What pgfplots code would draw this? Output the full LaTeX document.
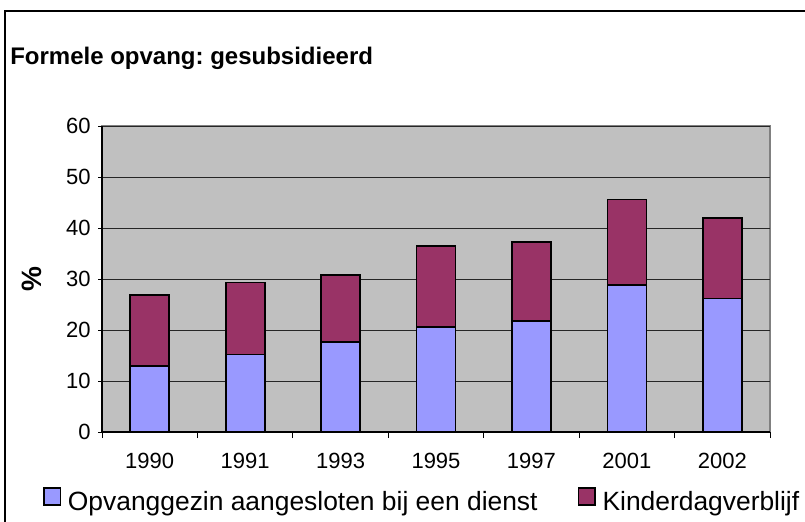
\documentclass[border=0pt]{standalone}
\usepackage{fontspec}
\setmainfont{Liberation Sans}
\usepackage{pgfplots}
\pgfplotsset{compat=1.18}
\definecolor{blueb}{HTML}{9999FF}
\definecolor{maroonb}{HTML}{993366}
\definecolor{plotbg}{HTML}{C0C0C0}
\frenchspacing
\begin{document}
\begin{tikzpicture}[x=0.75pt,y=0.75pt]
\useasboundingbox (0,0) rectangle (805,521);
\fill[white] (0,0) rectangle (805,521);
\begin{scope}
\clip (0,0) rectangle (805,521);
\draw[black, line width=0.9pt] (5,-10) -- (5,510) -- (820,510);
\end{scope}
\node[anchor=base west, font=\bfseries\fontsize{18}{20}\selectfont, inner sep=0pt] at (10,456) {Formele opvang: gesubsidieerd};
\begin{axis}[
  at={(76.5pt,66.75pt)}, anchor=south west,
  scale only axis, width=501pt, height=229.5pt,
  ybar stacked, bar width=29.25pt,
  xmin=-0.5, xmax=6.5, ymin=0, ymax=60,
  ytick={0,10,...,60},
  xtick={0,...,6},
  xticklabels={1990,1991,1993,1995,1997,2001,2002},
  minor xtick={-0.5,0.5,...,6.5},
  major x tick style={draw=none},
  minor tick length=4.5pt,
  major tick length=3pt,
  tick align=outside,
  tick pos=left,
  tick style={black, line width=0.75pt},
  axis line style={draw=none},
  axis background/.style={fill=plotbg, draw=gray, line width=1.2pt},
  ymajorgrids, major grid style={black!85, line width=0.7pt},
  /pgf/number format/assume math mode=true,
  ticklabel style={font=\fontsize{16.5}{18}\selectfont},
  xticklabel style={yshift=-9pt},
  yticklabel style={xshift=-2pt},
  ylabel={\%},
  ylabel style={font=\bfseries\fontsize{21}{22}\selectfont, at={(axis description cs:-0.1048,0.5)}, anchor=center},
  legend columns=2,
  legend style={draw=none, fill=none, at={(axis description cs:-0.0883,-0.222)}, anchor=west, inner sep=0pt, outer sep=0pt,
    font=\fontsize{19.8}{22}\selectfont,
    nodes={inner sep=0pt},
    /tikz/every odd column/.append style={column sep=5pt},
    /tikz/every even column/.append style={column sep=30pt}},
  legend image code/.code={\draw[#1, draw=black, line width=1.2pt] (0pt,-2pt) rectangle (12.5pt,10.5pt);},
  every axis plot/.append style={draw=black, line width=1.3pt},
  clip=false,
]
\addplot[fill=blueb] coordinates {(0,12.9) (1,15.2) (2,17.6) (3,20.6) (4,21.8) (5,28.8) (6,26.2)};
\addplot[fill=maroonb] coordinates {(0,13.9) (1,14.1) (2,13.2) (3,15.9) (4,15.4) (5,16.8) (6,15.7)};
\legend{Opvanggezin aangesloten bij een dienst, Kinderdagverblijf}
\draw[black, line width=0.9pt] (rel axis cs:0,1) -- (rel axis cs:0,0) -- (rel axis cs:1,0);
\end{axis}
\end{tikzpicture}
\end{document}
